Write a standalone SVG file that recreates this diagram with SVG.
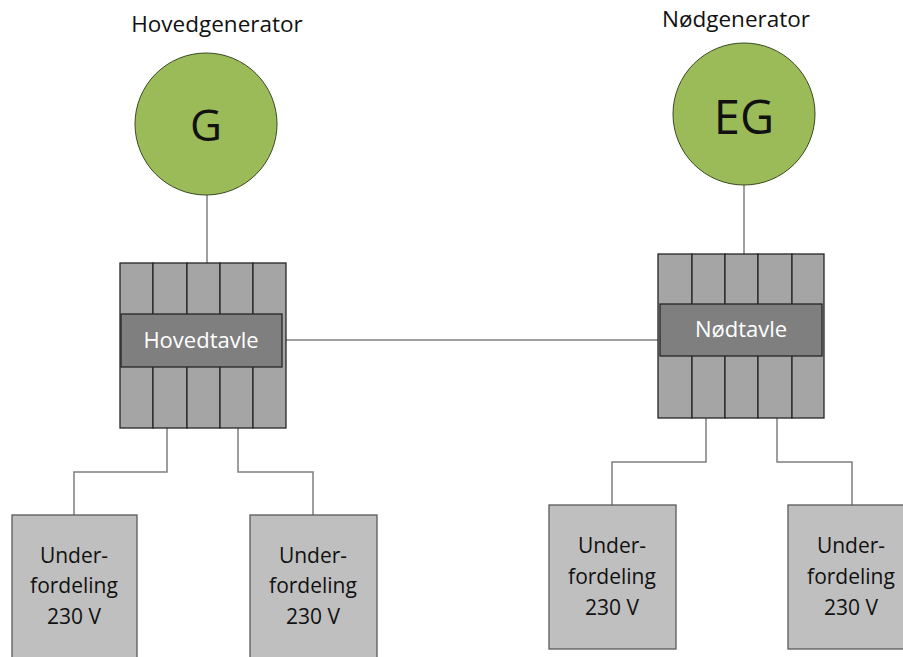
<svg xmlns="http://www.w3.org/2000/svg" width="903" height="657" viewBox="0 0 903 657">
<style>
text{font-family:"Open Sans","Liberation Sans",sans-serif;text-anchor:middle}
.gen{fill:#9BBB59;stroke:#3a4a22;stroke-width:1}
.cell{fill:#A5A5A5;stroke:#262626;stroke-width:1.3}
.mid{fill:#7F7F7F;stroke:#262626;stroke-width:1.3}
.sub{fill:#BFBFBF;stroke:#595959;stroke-width:1.3}
.lbl{font-size:21px;fill:#111}
.top{font-size:22.5px;fill:#111}
.wt{font-size:22px;fill:#ffffff}
.conn{fill:none;stroke:#7F7F7F;stroke-width:1.5}
</style>
<rect width="903" height="657" fill="#ffffff"/>
<g id="connectors">
<line class="conn" x1="207" y1="195" x2="207" y2="263"/>
<line class="conn" x1="744" y1="185" x2="744" y2="254"/>
<line class="conn" x1="282" y1="340" x2="660" y2="340"/>
<polyline class="conn" points="167,428 167,472 74,472 74,515"/>
<polyline class="conn" points="238,428 238,472 313,472 313,515"/>
<polyline class="conn" points="706,418 706,462 612,462 612,505"/>
<polyline class="conn" points="777,418 777,462 852,462 852,505"/>
</g>
<g id="hovedgenerator">
<text class="top" x="217" y="32">Hovedgenerator</text>
<circle class="gen" cx="206" cy="124" r="71"/>
<text x="206" y="141" style="font-size:44px;fill:#111">G</text>
</g>
<g id="nodgenerator">
<text class="top" x="736" y="27">Nødgenerator</text>
<circle class="gen" cx="744" cy="114" r="71"/>
<text x="744" y="134" style="font-size:47px;fill:#111">EG</text>
</g>
<g id="hovedtavle">
<rect class="cell" x="120" y="263" width="33" height="165"/>
<rect class="cell" x="153" y="263" width="34" height="165"/>
<rect class="cell" x="187" y="263" width="33" height="165"/>
<rect class="cell" x="220" y="263" width="33" height="165"/>
<rect class="cell" x="253" y="263" width="33" height="165"/>
<rect class="mid" x="121" y="314" width="161" height="53"/>
<text class="wt" x="201" y="348">Hovedtavle</text>
</g>
<g id="nodtavle">
<rect class="cell" x="658" y="254" width="34" height="164"/>
<rect class="cell" x="692" y="254" width="33" height="164"/>
<rect class="cell" x="725" y="254" width="33" height="164"/>
<rect class="cell" x="758" y="254" width="34" height="164"/>
<rect class="cell" x="792" y="254" width="32" height="164"/>
<rect class="mid" x="660" y="304" width="162" height="52"/>
<text class="wt" x="741" y="337">Nødtavle</text>
</g>
<g id="under1">
<rect class="sub" x="12" y="515" width="125" height="150"/>
<text class="lbl" x="74" y="563">Under-</text>
<text class="lbl" x="74" y="593">fordeling</text>
<text class="lbl" x="74" y="624">230 V</text>
</g>
<g id="under2">
<rect class="sub" x="250" y="515" width="127" height="150"/>
<text class="lbl" x="313" y="563">Under-</text>
<text class="lbl" x="313" y="593">fordeling</text>
<text class="lbl" x="313" y="624">230 V</text>
</g>
<g id="under3">
<rect class="sub" x="549" y="505" width="127" height="144"/>
<text class="lbl" x="612" y="553">Under-</text>
<text class="lbl" x="612" y="584">fordeling</text>
<text class="lbl" x="612" y="615">230 V</text>
</g>
<g id="under4">
<rect class="sub" x="788" y="505" width="127" height="144"/>
<text class="lbl" x="851" y="553">Under-</text>
<text class="lbl" x="851" y="584">fordeling</text>
<text class="lbl" x="851" y="615">230 V</text>
</g>
</svg>
